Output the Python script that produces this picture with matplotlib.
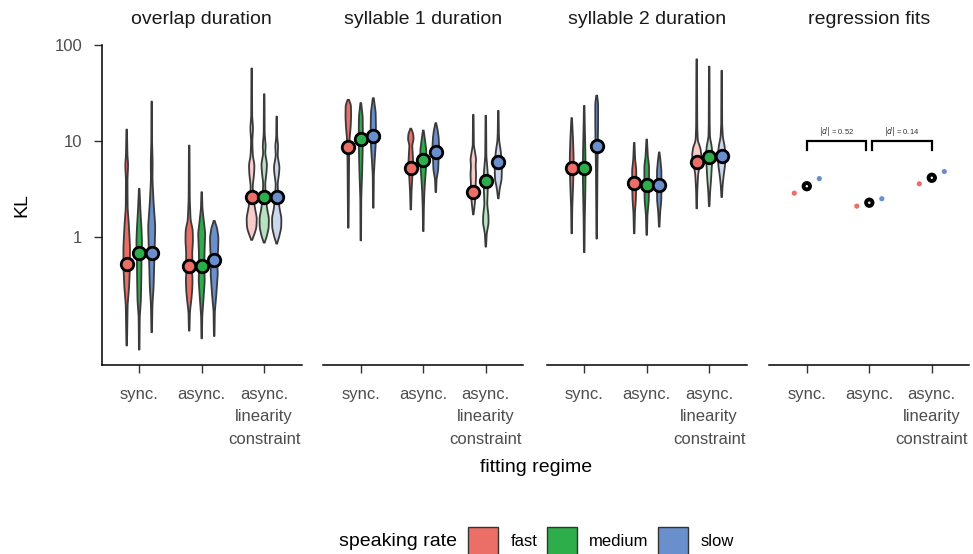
import numpy as np
import matplotlib
matplotlib.use("Agg")
import matplotlib.pyplot as plt
from matplotlib.patches import Rectangle
from matplotlib.ticker import NullLocator

plt.rcParams['font.family'] = ['Liberation Sans', 'DejaVu Sans']

# ---- data ----
regimes = ["sync.", "async.", "async.\nlinearity\nconstraint"]
rates = ["fast", "medium", "slow"]
rate_colors = ["#EC6F67", "#2DAE4B", "#6A8FCD"]
panel_titles = ["overlap duration", "syllable 1 duration", "syllable 2 duration", "regression fits"]

# medians per [regime][rate]
overlap_med = [[0.53, 0.69, 0.69], [0.50, 0.50, 0.58], [2.62, 2.62, 2.62]]
syl1_med = [[8.6, 10.6, 11.4], [5.3, 6.4, 7.7], [2.95, 3.83, 6.1]]
syl2_med = [[5.3, 5.3, 8.8], [3.69, 3.54, 3.54], [6.1, 6.86, 6.96]]

# violin outlines: KL values and relative density at those values, per [regime][rate]
overlap_kl = [
    [[0.075, 0.2, 0.3, 0.5, 0.8, 1.4, 2.0, 4.0, 5.7, 7.0, 13.2],
     [0.068, 0.15, 0.22, 0.35, 0.6, 0.9, 1.2, 2.0, 3.2],
     [0.103, 0.2, 0.3, 0.5, 0.8, 1.3, 2.3, 4.0, 6.0, 10.0, 25.8]],
    [[0.107, 0.17, 0.22, 0.28, 0.36, 0.45, 0.55, 0.7, 0.9, 1.2, 1.5, 2.5, 9.0],
     [0.089, 0.15, 0.22, 0.35, 0.5, 0.7, 1.1, 1.4, 2.0, 2.95],
     [0.094, 0.17, 0.25, 0.32, 0.42, 0.55, 0.75, 1.0, 1.25, 1.48]],
    [[0.94, 1.05, 1.25, 1.6, 2.0, 2.6, 3.4, 4.5, 5.7, 7.0, 10.0, 13.7, 18.0, 57.0],
     [0.88, 1.0, 1.25, 1.6, 2.0, 2.6, 3.6, 4.8, 5.8, 7.5, 8.8, 12.0, 30.8],
     [0.86, 1.0, 1.25, 1.6, 2.0, 2.6, 3.6, 4.6, 5.4, 7.0, 9.0, 11.0, 18.0]],
]
overlap_dens = [
    [[0.3, 1.0, 2.5, 3.5, 3.5, 2.2, 1.0, 0.8, 1.6, 0.8, 0.3],
     [0.3, 0.6, 1.8, 2.2, 2.5, 3.0, 2.5, 1.2, 0.3],
     [0.3, 0.8, 2.0, 2.6, 3.2, 3.8, 2.0, 0.8, 1.0, 0.4, 0.3]],
    [[0.3, 0.8, 2.2, 3.2, 3.6, 3.0, 3.4, 3.2, 4.0, 3.8, 1.5, 0.6, 0.3],
     [0.3, 0.6, 1.8, 3.2, 2.8, 3.0, 3.8, 2.5, 0.8, 0.3],
     [0.3, 0.7, 2.2, 3.0, 3.8, 3.2, 4.2, 4.5, 3.0, 0.5]],
    [[0.3, 2.5, 5.0, 5.5, 3.5, 1.8, 1.0, 2.5, 3.0, 1.2, 0.6, 1.5, 0.5, 0.3],
     [0.3, 2.5, 4.8, 5.0, 3.0, 1.8, 1.0, 2.5, 3.0, 1.0, 1.6, 0.5, 0.3],
     [0.3, 2.5, 4.8, 5.0, 3.0, 1.8, 1.0, 2.5, 3.0, 1.0, 1.5, 0.5, 0.3]],
]

syl1_kl = [
    [[1.26, 3.0, 6.0, 8.0, 11.0, 14.0, 18.0, 24.0, 26.9],
     [0.93, 2.5, 5.0, 8.0, 12.0, 18.0, 24.9],
     [2.03, 4.5, 6.4, 9.0, 14.0, 20.0, 28.0]],
    [[1.95, 3.0, 4.5, 6.0, 7.5, 9.0, 10.5, 12.0, 13.5],
     [1.16, 2.0, 3.0, 4.0, 5.5, 8.0, 10.0, 12.9],
     [2.95, 4.0, 5.0, 6.5, 9.0, 11.0, 13.0, 15.4]],
    [[1.73, 2.2, 2.8, 3.5, 4.5, 5.5, 6.5, 7.5, 9.0, 18.8],
     [0.8, 1.1, 1.4, 1.7, 2.2, 3.0, 4.0, 5.0, 7.0, 18.4],
     [2.54, 3.2, 4.0, 5.0, 6.5, 8.0, 10.0, 12.0, 20.7]],
]
syl1_dens = [
    [[0.3, 0.6, 0.8, 1.0, 1.5, 2.5, 3.0, 2.8, 0.5],
     [0.3, 0.5, 1.5, 2.0, 2.2, 2.0, 0.4],
     [0.3, 0.6, 1.5, 2.5, 2.8, 2.5, 0.5]],
    [[0.3, 0.8, 1.8, 2.5, 2.0, 1.5, 3.0, 2.5, 0.4],
     [0.3, 0.6, 1.2, 2.0, 3.0, 3.2, 2.0, 0.4],
     [0.3, 0.8, 2.5, 3.0, 3.5, 3.0, 2.0, 0.4]],
    [[0.3, 1.5, 2.5, 2.5, 3.0, 2.5, 3.0, 2.0, 0.6, 0.3],
     [0.3, 1.0, 3.0, 2.8, 1.5, 2.0, 2.5, 1.8, 0.6, 0.3],
     [0.3, 1.5, 3.5, 3.8, 3.5, 2.5, 1.0, 0.6, 0.3]],
]

syl2_kl = [
    [[1.1, 2.0, 3.5, 5.0, 7.0, 10.0, 14.0, 17.4],
     [0.7, 1.5, 3.0, 5.0, 8.0, 15.0, 23.3],
     [0.97, 2.0, 5.0, 9.0, 15.0, 25.0, 29.8]],
    [[1.1, 1.8, 2.5, 3.5, 5.0, 6.5, 9.6],
     [1.06, 1.7, 2.4, 3.5, 5.5, 7.0, 10.4],
     [1.29, 1.8, 2.4, 3.5, 5.0, 6.5, 7.65]],
    [[2.0, 3.0, 4.5, 5.5, 7.0, 8.5, 10.0, 14.0, 71.0],
     [2.11, 3.0, 4.0, 5.5, 7.0, 9.0, 11.0, 15.0, 59.6],
     [2.62, 3.5, 4.5, 5.5, 7.0, 9.0, 11.0, 15.0, 54.0]],
]
syl2_dens = [
    [[0.3, 0.6, 1.5, 2.0, 2.0, 1.5, 0.8, 0.3],
     [0.3, 0.6, 1.2, 1.5, 1.2, 0.6, 0.3],
     [0.3, 0.5, 0.8, 1.2, 1.5, 1.5, 0.4]],
    [[0.3, 0.8, 1.8, 2.2, 2.2, 1.0, 0.3],
     [0.3, 0.8, 2.2, 2.5, 2.5, 1.2, 0.3],
     [0.3, 1.0, 2.2, 2.5, 2.3, 1.2, 0.3]],
    [[0.3, 0.6, 1.5, 3.0, 5.0, 4.0, 1.2, 0.6, 0.3],
     [0.3, 1.0, 2.0, 2.8, 3.8, 2.5, 0.8, 0.5, 0.3],
     [0.3, 1.0, 2.2, 3.5, 4.2, 3.0, 1.2, 0.5, 0.3]],
]

# regression fits: mean (black), fast and slow
fit_mean = [3.40, 2.29, 4.16]
fit_fast = [2.88, 2.11, 3.60]
fit_slow = [4.08, 2.52, 4.83]
effect_d = [0.52, 0.14]

# ---- layout ----
W, H = 973, 554
fig = plt.figure(figsize=(W / 100, H / 100), dpi=100)
lefts = [101.7, 323.3, 546.7, 769.3]
pw, pbot, ph = 200, 189, 320
dodge = [-0.2, 0.0, 0.2]
dens_scale = 0.015
x = np.arange(1, 4)


def draw_violin(ax, pos, kl, dens, color, alpha):
    lk = np.log10(kl)
    grid = np.linspace(lk[0], lk[-1], 400)
    w = np.interp(grid, lk, dens)
    k = np.exp(-0.5 * (np.arange(-12, 13) / 5.0) ** 2)
    k /= k.sum()
    w = np.convolve(np.pad(w, 12, mode='edge'), k, mode='valid')
    w = np.maximum(w, 0.2) * dens_scale
    ax.fill_betweenx(10 ** grid, pos - w, pos + w, facecolor=color, alpha=alpha,
                     edgecolor='none', zorder=2)
    ax.fill_betweenx(10 ** grid, pos - w, pos + w, facecolor='none',
                     edgecolor='#3a3a3a', lw=1.3, zorder=3)


axes = []
for i in range(4):
    ax = fig.add_axes([lefts[i] / W, pbot / H, pw / W, ph / H])
    ax.set_yscale('log')
    ax.set_ylim(0.047, 100)
    ax.set_xlim(0.4, 3.6)
    ax.yaxis.set_minor_locator(NullLocator())
    for s in ['top', 'right']:
        ax.spines[s].set_visible(False)
    ax.spines['bottom'].set_linewidth(1.1)
    ax.spines['left'].set_linewidth(1.1)
    ax.set_xticks(x)
    ax.set_xticklabels(regimes, linespacing=1.6)
    ax.tick_params(axis='both', length=6, width=1, color='#333333',
                   labelcolor='#4d4d4d', labelsize=12)
    ax.tick_params(axis='x', pad=10)
    ax.tick_params(axis='y', pad=8)
    if i == 0:
        ax.set_yticks([1, 10, 100])
        ax.set_yticklabels(['1', '10', '100'])
    else:
        ax.spines['left'].set_visible(False)
        ax.tick_params(axis='y', left=False, labelleft=False)
    ax.patch.set_alpha(0)
    fig.text((lefts[i] + pw / 2) / W, 1 - 19 / H, panel_titles[i], fontsize=14,
             ha='center', va='center', color='#1a1a1a')
    axes.append(ax)

panels = [(overlap_kl, overlap_dens, overlap_med),
          (syl1_kl, syl1_dens, syl1_med),
          (syl2_kl, syl2_dens, syl2_med)]
for ax, (kl, dens, med) in zip(axes[:3], panels):
    for g in range(3):
        alpha = 0.35 if g == 2 else 1.0
        for r in range(3):
            draw_violin(ax, x[g] + dodge[r], kl[g][r], dens[g][r], rate_colors[r], alpha)
    for g in range(3):
        for r in range(3):
            ax.plot(x[g] + dodge[r], med[g][r], 'o', ms=9, mfc=rate_colors[r],
                    mec='black', mew=2.0, zorder=5)

# regression fits panel
ax = axes[3]
ax.scatter(x + dodge[0], fit_fast, s=14, color=rate_colors[0], edgecolors='none', zorder=4)
ax.scatter(x + dodge[2], fit_slow, s=14, color=rate_colors[2], edgecolors='none', zorder=4)
ax.scatter(x, fit_mean, s=55, color='black', edgecolors='none', zorder=5)
ax.scatter(x, fit_mean, s=3, color='white', edgecolors='none', zorder=6)
for j, d in enumerate(effect_d):
    x0 = x[j] + (0.05 if j > 0 else 0)
    x1 = x[j + 1] - (0.05 if j == 0 else 0)
    ax.plot([x0, x0, x1, x1], [8.0, 10.0, 10.0, 8.0], color='black', lw=1.6,
            solid_joinstyle='miter', zorder=4)
    ax.text((x0 + x1) / 2, 10.9, r'$|d|$' + ' = %.2f' % d, fontsize=5.5,
            ha='center', va='bottom', color='#333333')

# axis labels
fig.text(22 / W, 1 - 205 / H, 'KL', rotation=90, fontsize=14, ha='center', va='center')
fig.text(536 / W, 1 - 468 / H, 'fitting regime', fontsize=14, ha='center', va='center')

# legend
fig.text(457 / W, 1 - 541 / H, 'speaking rate', fontsize=14, ha='right', va='center')
box_x = [468.3, 546.7, 658.3]
for r in range(3):
    fig.add_artist(Rectangle((box_x[r] / W, 1 - 557 / H), 30 / W, 30 / H,
                             transform=fig.transFigure, facecolor=rate_colors[r],
                             edgecolor='#333333', lw=1.0))
    fig.text((box_x[r] + 42) / W, 1 - 541 / H, rates[r], fontsize=12,
             ha='left', va='center')

fig.savefig('out.png', dpi=100)
